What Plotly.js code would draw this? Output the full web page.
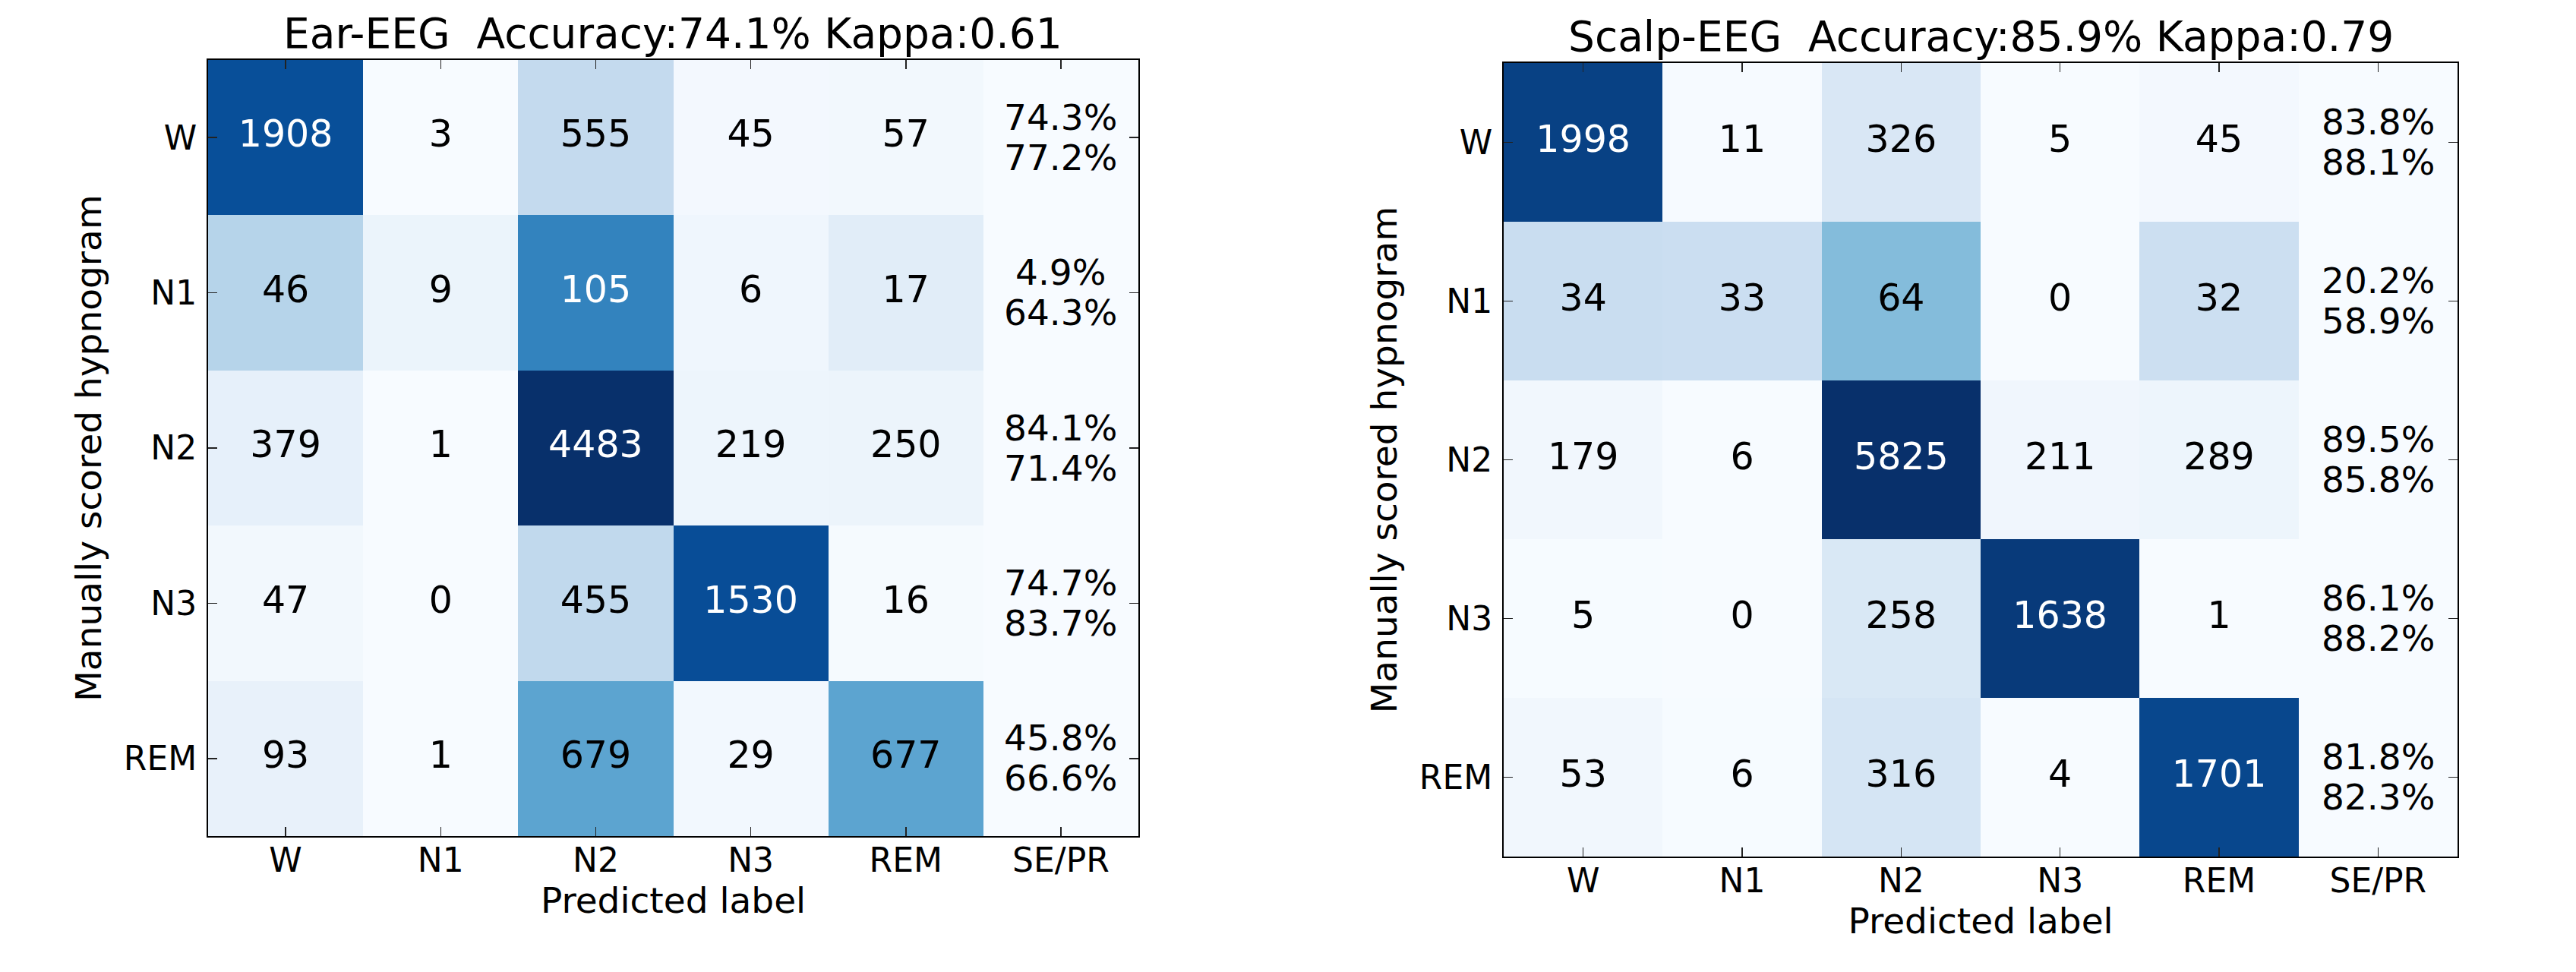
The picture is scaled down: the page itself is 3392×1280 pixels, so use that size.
<!DOCTYPE html>
<html>
<head>
<meta charset="utf-8">
<script src="https://cdn.plot.ly/plotly-3.0.1.min.js"></script>
<style>html,body{margin:0;padding:0;background:#fff;}#chart{width:3392px;height:1280px;}</style>
</head>
<body>
<div id="chart"></div>
<script>
// ---------- data ----------
const stages = ['W', 'N1', 'N2', 'N3', 'REM'];
const xLabels = ['W', 'N1', 'N2', 'N3', 'REM', 'SE/PR'];

const earTitle = 'Ear-EEG\u00a0 Accuracy:74.1% Kappa:0.61';
const earCounts = [
  [1908, 3, 555, 45, 57],
  [46, 9, 105, 6, 17],
  [379, 1, 4483, 219, 250],
  [47, 0, 455, 1530, 16],
  [93, 1, 679, 29, 677]
];
const earSE = [74.3, 4.9, 84.1, 74.7, 45.8];
const earPR = [77.2, 64.3, 71.4, 83.7, 66.6];

const scalpTitle = 'Scalp-EEG\u00a0 Accuracy:85.9% Kappa:0.79';
const scalpCounts = [
  [1998, 11, 326, 5, 45],
  [34, 33, 64, 0, 32],
  [179, 6, 5825, 211, 289],
  [5, 0, 258, 1638, 1],
  [53, 6, 316, 4, 1701]
];
const scalpSE = [83.8, 20.2, 89.5, 86.1, 81.8];
const scalpPR = [88.1, 58.9, 85.8, 88.2, 82.3];

const yTitle = 'Manually scored hypnogram';
const xTitle = 'Predicted label';

// ---------- style ----------
const FONT = 'DejaVu Sans, Liberation Sans, sans-serif';
const bluesScale = [
  [0.000, '#f7fbff'], [0.125, '#deebf7'], [0.250, '#c6dbef'], [0.375, '#9ecae1'],
  [0.500, '#6baed6'], [0.625, '#4292c6'], [0.750, '#2171b5'], [0.875, '#08519c'],
  [1.000, '#08306b']
];

const W = 3392, H = 1280;
const M = {l: 60, r: 60, t: 40, b: 40};
const fx = px => (px - M.l) / (W - M.l - M.r);
const fy = py => (H - M.b - py) / (H - M.t - M.b);

// pixel boxes of the two matrices
const panels = [
  {title: earTitle, counts: earCounts, se: earSE, pr: earPR, box: {x0: 274, x1: 1499, y0: 79, y1: 1101}},
  {title: scalpTitle, counts: scalpCounts, se: scalpSE, pr: scalpPR, box: {x0: 1980, x1: 3236, y0: 83, y1: 1128}}
];

const traces = [];
const annotations = [];
const layout = {
  width: W, height: H,
  margin: M,
  paper_bgcolor: '#ffffff',
  plot_bgcolor: '#f7fbff',
  showlegend: false,
  font: {family: FONT, color: '#000', size: 44},
  annotations: annotations
};

panels.forEach((p, k) => {
  const xa = k === 0 ? 'x' : 'x2';
  const ya = k === 0 ? 'y' : 'y2';
  const xKey = k === 0 ? 'xaxis' : 'xaxis2';
  const yKey = k === 0 ? 'yaxis' : 'yaxis2';

  const norm = p.counts.map(row => {
    const s = row.reduce((a, b) => a + b, 0);
    return row.map(v => v / s);
  });
  const zmax = Math.max(...norm.map(r => Math.max(...r)));

  traces.push({
    type: 'heatmap',
    x: stages, y: stages, z: norm,
    zmin: 0, zmax: zmax,
    colorscale: bluesScale,
    showscale: false,
    hoverinfo: 'skip',
    xaxis: xa, yaxis: ya
  });

  const tx = [], ty = [], tt = [], tc = [];
  p.counts.forEach((row, i) => row.forEach((v, j) => {
    tx.push(stages[j]); ty.push(stages[i]); tt.push(String(v));
    tc.push(norm[i][j] > 0.5 ? '#ffffff' : '#000000');
  }));
  traces.push({
    type: 'scatter', mode: 'text',
    x: tx, y: ty, text: tt,
    textposition: 'middle center',
    textfont: {family: FONT, size: 49, color: tc},
    hoverinfo: 'skip',
    xaxis: xa, yaxis: ya
  });

  p.se.forEach((v, i) => {
    annotations.push({
      xref: xa, yref: ya, x: 'SE/PR', y: stages[i],
      text: v.toFixed(1) + '%', showarrow: false,
      yshift: 27, font: {family: FONT, size: 47, color: '#000'}
    });
    annotations.push({
      xref: xa, yref: ya, x: 'SE/PR', y: stages[i],
      text: p.pr[i].toFixed(1) + '%', showarrow: false,
      yshift: -26, font: {family: FONT, size: 47, color: '#000'}
    });
  });

  annotations.push({
    xref: 'paper', yref: 'paper',
    x: (fx(p.box.x0) + fx(p.box.x1)) / 2, y: fy(p.box.y0 - 35),
    xanchor: 'center', yanchor: 'middle',
    text: p.title, showarrow: false,
    font: {family: FONT, size: 55, color: '#000'}
  });

  const axCommon = {
    type: 'category',
    showline: true, mirror: 'ticks', linecolor: '#000', linewidth: 2,
    ticks: 'inside', ticklen: 12, tickwidth: 1.5, tickcolor: '#222',
    showgrid: false, zeroline: false,
    tickfont: {family: FONT, size: 44, color: '#000'},
    automargin: false, fixedrange: true
  };
  layout[xKey] = Object.assign({}, axCommon, {
    domain: [fx(p.box.x0), fx(p.box.x1)],
    anchor: ya,
    categoryorder: 'array', categoryarray: xLabels,
    tickvals: xLabels,
    range: [-0.5, xLabels.length - 0.5],
    ticklabelstandoff: -8,
    title: {text: xTitle, font: {family: FONT, size: 47, color: '#000'}, standoff: 11}
  });
  layout[yKey] = Object.assign({}, axCommon, {
    domain: [fy(p.box.y1), fy(p.box.y0)],
    anchor: xa,
    categoryorder: 'array', categoryarray: stages,
    tickvals: stages,
    range: [stages.length - 0.5, -0.5],
    ticklabelstandoff: 4,
    title: {text: yTitle, font: {family: FONT, size: 47, color: '#000'}, standoff: 14}
  });
});

Plotly.newPlot('chart', traces, layout, {staticPlot: true, displayModeBar: false});
</script>
</body>
</html>
